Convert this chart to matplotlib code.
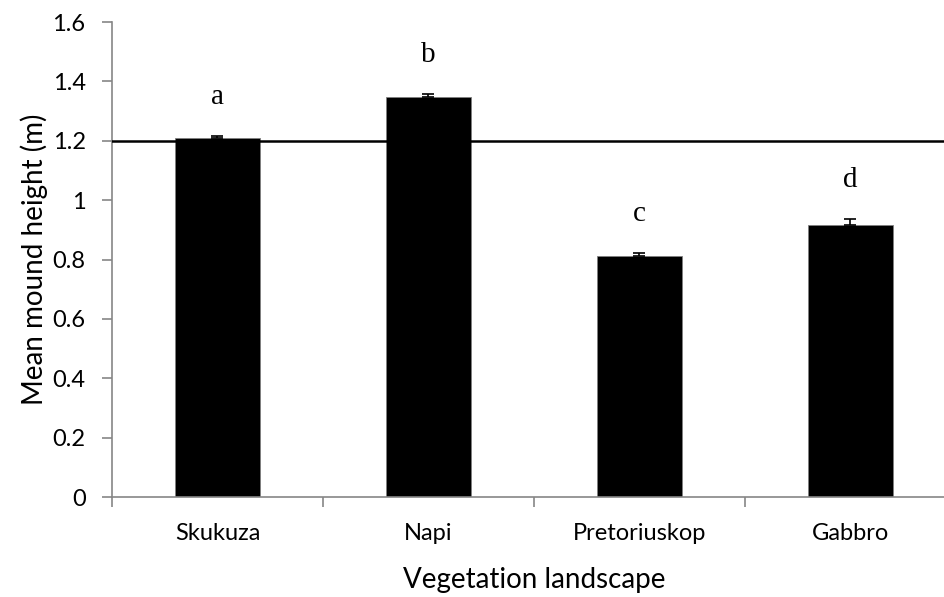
import matplotlib
matplotlib.use("Agg")
from matplotlib import pyplot as plt

# data
landscapes = ['Skukuza', 'Napi', 'Pretoriuskop', 'Gabbro']
mean_height = [1.21, 1.348, 0.813, 0.917]
std_err = [0.007, 0.011, 0.009, 0.02]
letters = ['a', 'b', 'c', 'd']
ref_line = 1.2

plt.rcParams['font.family'] = ['Lato', 'DejaVu Sans']

fig = plt.figure(figsize=(9.44, 5.97), dpi=100)
ax = fig.add_axes([0.1186, 0.1675, 0.894, 0.7956])

x = list(range(len(landscapes)))
ax.bar(x, mean_height, width=0.4, color='black', edgecolor='#808080', linewidth=0.6, zorder=2)
ax.errorbar(x, mean_height, yerr=[[0] * len(x), std_err], fmt='none', ecolor='black',
            elinewidth=1.2, capsize=4.5, capthick=1.2, zorder=3)
ax.axhline(ref_line, color='black', linewidth=1.8, zorder=4)

for i in x:
    ax.text(i, mean_height[i] + std_err[i] + 0.13, letters[i], ha='center', va='center',
            fontsize=21, family='Liberation Serif')

ax.set_xlim(-0.5, 3.5)
ax.set_ylim(0, 1.6)
ax.set_yticks([0, 0.2, 0.4, 0.6, 0.8, 1.0, 1.2, 1.4, 1.6])
ax.set_yticklabels(['0', '0.2', '0.4', '0.6', '0.8', '1', '1.2', '1.4', '1.6'], fontsize=17)
ax.set_xticks(x)
ax.set_xticklabels(landscapes, fontsize=17)
ax.set_xticks([-0.5, 0.5, 1.5, 2.5, 3.5], minor=True)
ax.tick_params(axis='x', which='major', length=0, pad=19)
ax.tick_params(axis='x', which='minor', length=7, color='#868686', width=1.2)
ax.tick_params(axis='y', length=7, color='#868686', width=1.2, pad=12)

for s in ['top', 'right']:
    ax.spines[s].set_visible(False)
for s in ['left', 'bottom']:
    ax.spines[s].set_color('#868686')
    ax.spines[s].set_linewidth(1.2)

ax.set_ylabel('Mean mound height (m)', fontsize=20, labelpad=3)
ax.set_xlabel('Vegetation landscape', fontsize=20, labelpad=16)

fig.savefig('out.png', dpi=100)
